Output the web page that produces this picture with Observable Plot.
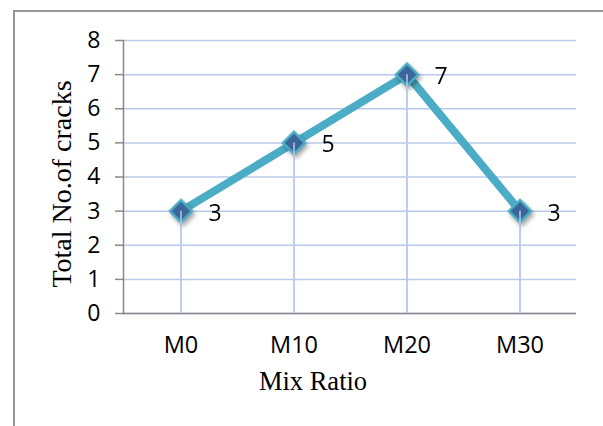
<!DOCTYPE html>
<html>
<head>
<meta charset="utf-8">
<script src="https://cdn.jsdelivr.net/npm/d3@7"></script>
<script src="https://cdn.jsdelivr.net/npm/@observablehq/plot@0.6"></script>
<style>
  html, body { margin: 0; padding: 0; background: #fff; }
  #wrap { position: relative; width: 603px; height: 426px; overflow: hidden; }
  #box {
    position: absolute; left: 13px; top: 10px; width: 620px; height: 440px;
    border-left: 2px solid #969696; border-top: 2px solid #969696;
  }
  #chart { position: absolute; left: 0; top: 0; }
  .markers { filter: drop-shadow(2px 3px 2px rgba(0,0,0,0.35)); }
</style>
</head>
<body>
<div id="wrap"><div id="box"></div><div id="chart"></div></div>
<script>
const mixes = ["M0", "M10", "M20", "M30"];
const cracks = [3, 5, 7, 3];
const yTicks = [0, 1, 2, 3, 4, 5, 6, 7, 8];
const xTitle = "Mix Ratio";
const yTitle = "Total No.of cracks";

const data = mixes.map((m, i) => ({mix: m, cracks: cracks[i]}));

const grid = "#b8cae9";
const axisGray = "#888888";
const lineColor = "#4bacc6";
const sans = "'Open Sans', sans-serif";
const serif = "'Liberation Serif', 'Times New Roman', serif";

const chart = Plot.plot({
  width: 603,
  height: 426,
  marginLeft: 123,
  marginRight: 27,
  marginTop: 40,
  marginBottom: 113,
  style: {fontFamily: sans, background: "transparent", color: "#000"},
  x: {type: "band", domain: mixes, padding: 0},
  y: {domain: [0, 8]},
  marks: [
    Plot.gridY(yTicks, {stroke: grid, strokeOpacity: 1, strokeWidth: 1.5}),
    Plot.ruleX(data, {x: "mix", y1: 0, y2: "cracks", stroke: grid, strokeWidth: 1.5}),
    Plot.frame({anchor: "left", stroke: axisGray, strokeWidth: 1.5}),
    Plot.ruleY([0], {stroke: axisGray, strokeWidth: 1.5}),
    Plot.axisY(yTicks, {tickSize: 8, tickPadding: 15, fontSize: 23, stroke: axisGray, strokeWidth: 1.5, label: null}),
    Plot.axisX({tickSize: 0, tickPadding: 23, fontSize: 23.5, label: null}),
    Plot.line(data, {x: "mix", y: "cracks", stroke: lineColor, strokeWidth: 8, strokeLinejoin: "miter"}),
    Plot.dot(data, {x: "mix", y: "cracks", symbol: "diamond2", r: 10, fill: "#3b6699", stroke: lineColor, strokeWidth: 2.5, className: "markers"}),
    Plot.ruleX(data, {x: "mix", y1: 0, y2: "cracks", stroke: grid, strokeWidth: 1.5}),
    Plot.text(data, {x: "mix", y: "cracks", text: d => String(d.cracks), dx: 34, dy: 2, fontSize: 23, textAnchor: "middle"}),
    Plot.text([xTitle], {frameAnchor: "bottom", dx: -37, dy: 68, fontSize: 26.5, fontFamily: serif, textAnchor: "middle", lineAnchor: "middle"}),
    Plot.text([yTitle], {frameAnchor: "left", dx: -61, dy: 7, rotate: -90, fontSize: 28, fontFamily: serif, textAnchor: "middle", lineAnchor: "middle"})
  ]
});
document.getElementById("chart").appendChild(chart);
</script>
</body>
</html>
